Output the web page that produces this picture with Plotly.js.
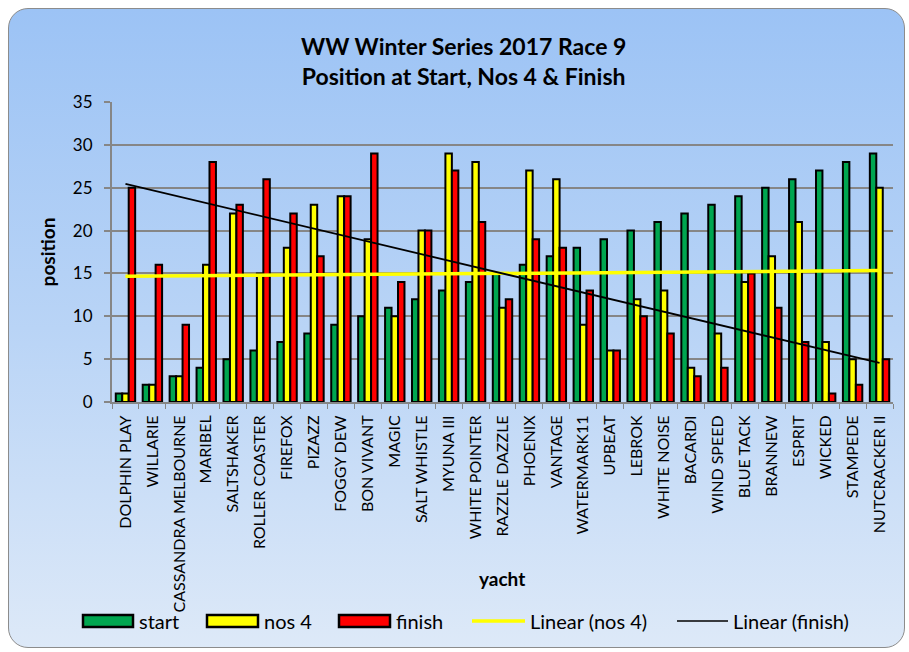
<!DOCTYPE html>
<html>
<head>
<meta charset="utf-8">
<script src="https://cdn.plot.ly/plotly-3.0.1.min.js"></script>
<style>
  html, body { margin: 0; padding: 0; background: #ffffff; }
  #panel {
    position: absolute; left: 8px; top: 8px; width: 895px; height: 638px;
    border: 1.5px solid #8c8c8c; border-radius: 20px;
    background: linear-gradient(to bottom, #9cc3f5 0%, #b9d4f6 50%, #dde9f8 100%);
    overflow: hidden;
  }
  #chart { width: 897px; height: 640px; position: absolute; left: -1px; top: -1px; }
</style>
</head>
<body>
<div id="panel"><div id="chart"></div></div>
<script>
const yachts = ["DOLPHIN PLAY","WILLARIE","CASSANDRA MELBOURNE","MARIBEL","SALTSHAKER","ROLLER COASTER","FIREFOX","PIZAZZ","FOGGY DEW","BON VIVANT","MAGIC","SALT WHISTLE","MYUNA III","WHITE POINTER","RAZZLE DAZZLE","PHOENIX","VANTAGE","WATERMARK11","UPBEAT","LEBROK","WHITE NOISE","BACARDI","WIND SPEED","BLUE TACK","BRANNEW","ESPRIT","WICKED","STAMPEDE","NUTCRACKER II"];
const startPos = [1,2,3,4,5,6,7,8,9,10,11,12,13,14,15,16,17,18,19,20,21,22,23,24,25,26,27,28,29];
const nos4Pos  = [1,2,3,16,22,15,18,23,24,19,10,20,29,28,11,27,26,9,6,12,13,4,8,14,17,21,7,5,25];
const finishPos = [25,16,9,28,23,26,22,17,24,29,14,20,27,21,12,19,18,13,6,10,8,3,4,15,11,7,1,2,5];
const yTicks = [0,5,10,15,20,25,30,35];

// Least-squares linear trend (Excel "Linear" trendline, x = 1..n)
function linearTrend(vals) {
  const n = vals.length;
  let sx = 0, sy = 0, sxx = 0, sxy = 0;
  vals.forEach((v, i) => { const x = i + 1; sx += x; sy += v; sxx += x * x; sxy += x * v; });
  const b = (n * sxy - sx * sy) / (n * sxx - sx * sx);
  const a = (sy - b * sx) / n;
  return vals.map((v, i) => a + b * (i + 1));
}

const FONT = "Lato, 'Open Sans', sans-serif";
const outline = { color: "#000000", width: 2 };

const traces = [
  { type: "bar", name: "start", x: yachts, y: startPos, marker: { color: "#00a650", line: outline }, showlegend: false },
  { type: "bar", name: "nos 4", x: yachts, y: nos4Pos, marker: { color: "#ffff00", line: outline }, showlegend: false },
  { type: "bar", name: "finish", x: yachts, y: finishPos, marker: { color: "#ff0000", line: outline }, showlegend: false },
  { type: "scatter", mode: "lines", name: "Linear (nos 4)", x: yachts, y: linearTrend(nos4Pos), line: { color: "#ffff00", width: 3.5 }, showlegend: false },
  { type: "scatter", mode: "lines", name: "Linear (finish)", x: yachts, y: linearTrend(finishPos), line: { color: "#000000", width: 1.8 }, showlegend: false }
];

// pixel -> paper helpers for the custom legend (plot area: x 112..893, y 102..402 page px)
const PL = 112, PW = 781, PB = 402, PH = 300;
const px = v => (v - PL) / PW;
const py = v => (PB - v) / PH;
const legY = 621;

const legendItems = [
  { kind: "box", color: "#00a650", x0: 83, x1: 133, label: "start", lx: 137 },
  { kind: "box", color: "#ffff00", x0: 207, x1: 258, label: "nos 4", lx: 262 },
  { kind: "box", color: "#ff0000", x0: 339, x1: 390, label: "finish", lx: 394 },
  { kind: "line", color: "#ffff00", w: 3.5, x0: 472, x1: 525, label: "Linear (nos 4)", lx: 528 },
  { kind: "line", color: "#000000", w: 1.5, x0: 677, x1: 728, label: "Linear (finish)", lx: 731 }
];
const shapes = [], annotations = [];
legendItems.forEach(it => {
  if (it.kind === "box") {
    shapes.push({ type: "rect", xref: "paper", yref: "paper", x0: px(it.x0), x1: px(it.x1), y0: py(legY + 6), y1: py(legY - 6),
      fillcolor: it.color, line: { color: "#000", width: 2.5 } });
  } else {
    shapes.push({ type: "line", xref: "paper", yref: "paper", x0: px(it.x0), x1: px(it.x1), y0: py(legY), y1: py(legY),
      line: { color: it.color, width: it.w } });
  }
  annotations.push({ xref: "paper", yref: "paper", x: px(it.lx), y: py(legY), xanchor: "left", yanchor: "middle",
    text: it.label, showarrow: false, font: { family: FONT, size: 20, color: "#000" } });
});
annotations.push({ xref: "paper", yref: "paper", x: px(502), y: py(578), xanchor: "center", yanchor: "middle",
  text: "<b>yacht</b>", showarrow: false, font: { family: FONT, size: 19, color: "#000" } });

const layout = {
  width: 897, height: 640,
  margin: { l: 104, r: 12, t: 94, b: 246 },
  paper_bgcolor: "rgba(0,0,0,0)", plot_bgcolor: "rgba(0,0,0,0)",
  font: { family: FONT, color: "#000" },
  title: { text: "<b>WW Winter Series 2017 Race 9<br>Position at Start, Nos 4 & Finish</b>", x: 0.508, xref: "container", xanchor: "center", y: 0.926, yanchor: "middle",
    font: { family: FONT, size: 23, color: "#000" } },
  barmode: "group", bargap: 0.28, bargroupgap: 0,
  showlegend: false,
  xaxis: {
    type: "category", tickangle: -90, tickfont: { family: FONT, size: 16, color: "#000" },
    ticks: "outside", ticklen: 5, tickcolor: "#868686", tickson: "boundaries", ticklabelstandoff: 5,
    showline: true, linecolor: "#868686", linewidth: 2, showgrid: false, automargin: false
  },
  yaxis: {
    range: [0, 35], tickvals: yTicks, ticktext: yTicks.map(String),
    tickfont: { family: FONT, size: 17, color: "#000" },
    ticks: "outside", ticklen: 6, tickcolor: "#868686", tickwidth: 2, ticklabelstandoff: 8,
    showline: true, linecolor: "#868686", linewidth: 2,
    showgrid: true, gridcolor: "#868686", gridwidth: 2, zeroline: false,
    title: { text: "<b>position</b>", font: { family: FONT, size: 19, color: "#000" }, standoff: 12 },
    automargin: false
  },
  shapes: shapes, annotations: annotations
};

Plotly.newPlot("chart", traces, layout, { displayModeBar: false, staticPlot: true });
</script>
</body>
</html>
